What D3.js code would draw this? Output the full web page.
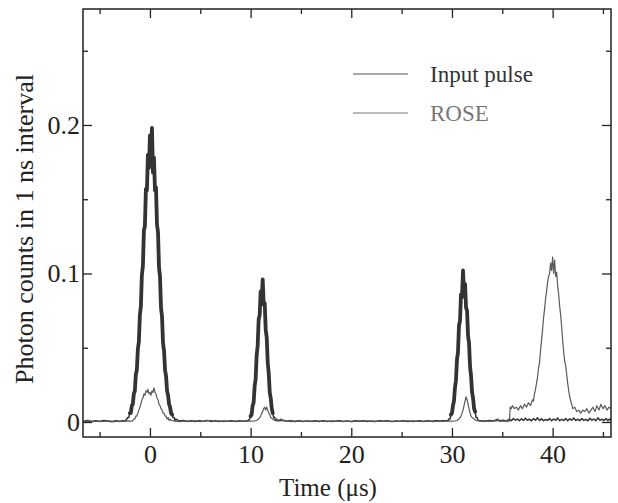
<!DOCTYPE html>
<html><head><meta charset="utf-8">
<script src="https://cdn.jsdelivr.net/npm/d3@7"></script>
<style>html,body{margin:0;padding:0;background:#fff;} svg{display:block}</style>
</head><body><svg id="chart" width="618" height="503"></svg>
<script>
const seriesNames = ["Input pulse", "ROSE"];
const xTicksMajor = [0, 10, 20, 30, 40];
const xTickLabels = ["0", "10", "20", "30", "40"];
const xTicksMinor = [-5, 5, 15, 25, 35, 45];
const yTicksMajor = [0, 0.1, 0.2];
const yTickLabels = ["0", "0.1", "0.2"];
const yTicksMinor = [0.05, 0.15, 0.25];
const xTitle = "Time (\u03bcs)";
const yTitle = "Photon counts in 1 ns interval";

// [time (us), photon counts]
const inputPulse = [
[-6.6,0.0005],[-6.2,0.001],[-5.8,0.0003],[-5.4,0.0008],[-5.0,0.0004],[-4.6,0.001],[-4.2,0.0006],[-3.8,0.0002],[-3.4,0.0009],[-3.0,0.0004],[-2.7,0.0008],
[-2.4,0.001],[-2.3,0.002],[-2.2,0.003],[-2.1,0.003],[-2.0,0.006],[-1.9,0.006],[-1.8,0.011],[-1.7,0.012],[-1.6,0.019],[-1.5,0.021],[-1.4,0.032],[-1.3,0.035],[-1.2,0.049],[-1.1,0.054],[-1.0,0.072],[-0.9,0.078],[-0.8,0.099],[-0.7,0.105],[-0.6,0.129],[-0.5,0.132],[-0.4,0.157],[-0.3,0.156],[-0.2,0.180],[-0.1,0.171],[0.0,0.193],[0.1,0.176],[0.2,0.198],[0.3,0.168],[0.4,0.178],[0.5,0.156],[0.6,0.158],[0.7,0.133],[0.8,0.128],[0.9,0.104],[1.0,0.098],[1.1,0.077],[1.2,0.071],[1.3,0.053],[1.4,0.048],[1.5,0.035],[1.6,0.031],[1.7,0.021],[1.8,0.018],[1.9,0.012],[2.0,0.010],[2.1,0.006],[2.2,0.005],[2.3,0.003],[2.4,0.003],[2.5,0.001],[2.6,0.002],
[2.9,0.0006],[3.3,0.001],[3.7,0.0004],[4.1,0.0008],[4.5,0.0003],[4.9,0.0009],[5.3,0.0005],[5.7,0.0011],[6.1,0.0004],[6.5,0.0008],[6.9,0.0003],[7.3,0.0007],[7.7,0.0005],[8.1,0.0009],[8.5,0.0004],[8.9,0.0008],[9.3,0.0005],[9.6,0.0009],
[9.8,0.001],[9.9,0.002],[10.0,0.004],[10.1,0.005],[10.2,0.011],[10.3,0.013],[10.4,0.024],[10.5,0.029],[10.6,0.045],[10.7,0.051],[10.8,0.069],[10.9,0.072],[11.0,0.088],[11.1,0.082],[11.2,0.096],[11.3,0.079],[11.4,0.080],[11.5,0.062],[11.6,0.057],[11.7,0.040],[11.8,0.033],[11.9,0.020],[12.0,0.016],[12.1,0.009],[12.2,0.006],[12.3,0.003],[12.4,0.003],[12.5,0.001],
[12.8,0.0008],[13.2,0.0012],[13.6,0.0005],[14.0,0.0009],[14.4,0.0004],[14.8,0.0008],[15.2,0.0003],[15.6,0.0007],[16.0,0.0005],[16.4,0.0009],[16.8,0.0004],[17.2,0.0008],[17.6,0.0003],[18.0,0.0006],[18.4,0.0005],[18.8,0.0009],[19.2,0.0004],[19.6,0.0007],[20.0,0.0003],[20.4,0.0008],[20.8,0.0005],[21.2,0.0009],[21.6,0.0004],[22.0,0.0007],[22.4,0.0003],[22.8,0.0008],[23.2,0.0005],[23.6,0.0009],[24.0,0.0004],[24.4,0.0007],[24.8,0.0005],[25.2,0.0008],[25.6,0.0003],[26.0,0.0007],[26.4,0.0005],[26.8,0.0009],[27.2,0.0004],[27.6,0.0008],[28.0,0.0005],[28.4,0.0009],[28.8,0.0006],[29.2,0.0008],
[29.6,0.001],[29.7,0.002],[29.8,0.002],[29.9,0.005],[30.0,0.006],[30.1,0.011],[30.2,0.014],[30.3,0.023],[30.4,0.028],[30.5,0.042],[30.6,0.047],[30.7,0.065],[30.8,0.068],[30.9,0.086],[31.0,0.084],[31.1,0.102],[31.2,0.086],[31.3,0.093],[31.4,0.077],[31.5,0.075],[31.6,0.058],[31.7,0.053],[31.8,0.037],[31.9,0.031],[32.0,0.020],[32.1,0.016],[32.2,0.009],[32.3,0.007],[32.4,0.003],[32.5,0.003],[32.6,0.001],
[32.9,0.0009],[33.3,0.0005],[33.7,0.0011],[34.1,0.0006],[34.5,0.0018],[34.8,0.0008],[35.1,0.0012],[35.4,0.0006],[35.7,0.002],[35.9,0.0009],[36.1,0.0024],[36.3,0.0012],[36.5,0.002],[36.7,0.0008],[36.9,0.0022],[37.1,0.001],[37.3,0.0026],[37.5,0.0011],[37.7,0.0019],[37.9,0.0008],[38.1,0.0023],[38.3,0.0012],[38.5,0.0028],[38.7,0.001],[38.9,0.0021],[39.1,0.0009],[39.3,0.0017],[39.5,0.0011],[39.7,0.0024],[39.9,0.0008],[40.1,0.002],[40.3,0.0012],[40.5,0.0026],[40.7,0.0009],[40.9,0.0018],[41.1,0.0011],[41.3,0.0023],[41.5,0.0008],[41.7,0.0021],[41.9,0.0012],[42.1,0.0027],[42.3,0.001],[42.5,0.0019],[42.7,0.0009],[42.9,0.0024],[43.1,0.0011],[43.3,0.0018],[43.5,0.0008],[43.7,0.0025],[43.9,0.0012],[44.1,0.002],[44.3,0.0009],[44.5,0.0028],[44.7,0.0011],[44.9,0.0019],[45.1,0.001],[45.3,0.0024],[45.5,0.0009],[45.7,0.0021],[45.8,0.0012]
];

const rose = [
[-6.6,0.0003],[-6.1,0.0007],[-5.6,0.0002],[-5.1,0.0006],[-4.6,0.0004],[-4.1,0.0008],[-3.6,0.0003],[-3.1,0.0006],[-2.6,0.0004],[-2.1,0.0007],[-1.8,0.0005],
[-1.7,0.001],[-1.6,0.002],[-1.5,0.002],[-1.4,0.004],[-1.3,0.004],[-1.2,0.006],[-1.1,0.008],[-1.0,0.010],[-0.9,0.012],[-0.8,0.015],[-0.7,0.016],[-0.6,0.019],[-0.5,0.018],[-0.4,0.021],[-0.3,0.020],[-0.2,0.022],[-0.1,0.019],[0.0,0.020],[0.1,0.018],[0.2,0.021],[0.3,0.020],[0.4,0.023],[0.5,0.020],[0.6,0.019],[0.7,0.016],[0.8,0.015],[0.9,0.012],[1.0,0.011],[1.1,0.009],[1.2,0.008],[1.3,0.006],[1.4,0.006],[1.5,0.004],[1.6,0.004],[1.7,0.002],[1.8,0.003],[1.9,0.001],[2.0,0.002],[2.1,0.001],[2.2,0.001],
[2.5,0.0006],[3.0,0.0003],[3.5,0.0008],[4.0,0.0004],[4.5,0.0007],[5.0,0.0003],[5.5,0.0006],[6.0,0.0012],[6.3,0.0004],[6.8,0.0007],[7.3,0.0003],[7.8,0.0006],[8.3,0.0004],[8.8,0.0008],[9.3,0.0005],[9.8,0.0007],[10.2,0.0005],
[10.6,0.001],[10.8,0.002],[10.9,0.003],[11.0,0.004],[11.1,0.006],[11.2,0.007],[11.3,0.009],[11.4,0.010],[11.5,0.008],[11.6,0.010],[11.7,0.008],[11.8,0.006],[11.9,0.005],[12.0,0.003],[12.2,0.002],[12.4,0.001],[12.6,0.002],[12.8,0.001],[13.0,0.002],[13.2,0.001],
[13.6,0.0006],[14.1,0.0003],[14.6,0.0007],[15.1,0.0004],[15.6,0.0006],[16.1,0.0003],[16.6,0.0008],[17.1,0.0004],[17.6,0.0006],[18.1,0.0003],[18.6,0.0007],[19.1,0.0004],[19.6,0.0006],[20.1,0.0003],[20.6,0.0007],[21.1,0.0004],[21.6,0.0008],[22.1,0.0003],[22.6,0.0006],[23.1,0.0004],[23.6,0.0007],[24.1,0.0003],[24.6,0.0006],[25.1,0.0004],[25.6,0.0008],[26.1,0.0003],[26.6,0.0006],[27.1,0.0004],[27.6,0.0007],[28.1,0.0003],[28.6,0.0006],[29.1,0.0004],[29.6,0.0007],[30.1,0.0005],
[30.5,0.001],[30.7,0.002],[30.8,0.003],[30.9,0.004],[31.0,0.006],[31.1,0.008],[31.2,0.011],[31.3,0.014],[31.4,0.017],[31.5,0.015],[31.6,0.012],[31.7,0.009],[31.8,0.006],[31.9,0.004],[32.0,0.003],[32.2,0.002],[32.4,0.001],
[32.8,0.0005],[33.3,0.0008],[33.8,0.0004],[34.3,0.0009],[34.8,0.0005],[35.3,0.0008],[35.72,0.0006],
[35.78,0.010],[35.9,0.009],[36.0,0.011],[36.2,0.009],[36.4,0.010],[36.6,0.008],[36.8,0.011],[37.0,0.009],[37.2,0.012],[37.4,0.010],[37.6,0.013],[37.8,0.011],[38.0,0.015],[38.1,0.014],[38.2,0.019],[38.3,0.022],[38.4,0.026],[38.5,0.030],[38.6,0.036],[38.7,0.040],[38.8,0.048],[38.9,0.055],[39.0,0.062],[39.1,0.070],[39.2,0.076],[39.3,0.083],[39.4,0.088],[39.5,0.094],[39.6,0.098],[39.7,0.100],[39.8,0.107],[39.9,0.102],[40.0,0.111],[40.1,0.100],[40.2,0.109],[40.3,0.098],[40.4,0.101],[40.5,0.092],[40.6,0.086],[40.7,0.078],[40.8,0.072],[40.9,0.064],[41.0,0.055],[41.1,0.047],[41.2,0.041],[41.3,0.038],[41.4,0.032],[41.5,0.026],[41.6,0.021],[41.7,0.017],[41.8,0.014],[41.9,0.012],[42.0,0.009],[42.2,0.010],[42.4,0.007],[42.6,0.008],[42.8,0.006],[43.0,0.008],[43.2,0.007],[43.4,0.009],[43.6,0.006],[43.8,0.008],[44.0,0.010],[44.2,0.007],[44.4,0.011],[44.6,0.008],[44.8,0.012],[45.0,0.009],[45.2,0.011],[45.4,0.008],[45.6,0.010],[45.8,0.009]
];

const svg = d3.select("#chart");
const plot = {left: 83, right: 611, top: 9, bottom: 437};
const x = d3.scaleLinear().domain([-6.65, 45.8]).range([plot.left, plot.right]);
const y = d3.scaleLinear().domain([-0.0101, 0.2781]).range([plot.bottom, plot.top]);

const font = "'Liberation Serif','Times New Roman',serif";
const axisColor = "#222";

svg.append("defs").append("clipPath").attr("id","clip")
  .append("rect").attr("x",plot.left).attr("y",plot.top)
  .attr("width",plot.right-plot.left).attr("height",plot.bottom-plot.top);

const line = d3.line().x(d => x(d[0])).y(d => y(d[1]));
const g = svg.append("g").attr("clip-path","url(#clip)");

// Input pulse: thin everywhere, heavier through the dense pulses
g.append("path").datum(inputPulse).attr("d", line)
  .attr("fill","none").attr("stroke","#333").attr("stroke-width",1.5).attr("stroke-linejoin","round");
g.append("path").datum(inputPulse)
  .attr("d", d3.line().defined(d => d[1] >= 0.004).x(d => x(d[0])).y(d => y(d[1])))
  .attr("fill","none").attr("stroke","#333").attr("stroke-width",3.8)
  .attr("stroke-linejoin","round").attr("stroke-linecap","round");
// ROSE
g.append("path").datum(rose).attr("d", line)
  .attr("fill","none").attr("stroke","#5a5a5a").attr("stroke-width",1.2).attr("stroke-linejoin","round");

function styleAxis(sel){
  sel.select(".domain").remove();
  sel.selectAll("line").attr("stroke", axisColor).attr("stroke-width",1.3);
  sel.selectAll("text").attr("font-family", font).attr("font-size", 26).attr("fill", "#222");
}

svg.append("g").attr("transform",`translate(0,${plot.bottom})`)
  .call(d3.axisBottom(x).tickValues(xTicksMajor).tickSize(-9).tickPadding(8)
    .tickFormat((d,i) => xTickLabels[i])).call(styleAxis);
svg.append("g").attr("transform",`translate(0,${plot.bottom})`)
  .call(d3.axisBottom(x).tickValues(xTicksMinor).tickSize(-5).tickFormat("")).call(styleAxis);
svg.append("g").attr("transform",`translate(0,${plot.top})`)
  .call(d3.axisTop(x).tickValues(xTicksMajor).tickSize(-9).tickFormat("")).call(styleAxis);
svg.append("g").attr("transform",`translate(0,${plot.top})`)
  .call(d3.axisTop(x).tickValues(xTicksMinor).tickSize(-5).tickFormat("")).call(styleAxis);
svg.append("g").attr("transform",`translate(${plot.left},0)`)
  .call(d3.axisLeft(y).tickValues(yTicksMajor).tickSize(-9).tickPadding(3)
    .tickFormat((d,i) => yTickLabels[i])).call(styleAxis);
svg.append("g").attr("transform",`translate(${plot.left},0)`)
  .call(d3.axisLeft(y).tickValues(yTicksMinor).tickSize(-5).tickFormat("")).call(styleAxis);
svg.append("g").attr("transform",`translate(${plot.right},0)`)
  .call(d3.axisRight(y).tickValues(yTicksMajor).tickSize(-9).tickFormat("")).call(styleAxis);
svg.append("g").attr("transform",`translate(${plot.right},0)`)
  .call(d3.axisRight(y).tickValues(yTicksMinor).tickSize(-5).tickFormat("")).call(styleAxis);

svg.append("rect").attr("x",plot.left).attr("y",plot.top)
  .attr("width",plot.right-plot.left).attr("height",plot.bottom-plot.top)
  .attr("fill","none").attr("stroke",axisColor).attr("stroke-width",1.5);

svg.append("text").attr("x",328).attr("y",496).attr("text-anchor","middle")
  .attr("font-family",font).attr("font-size",25).attr("fill","#222").text(xTitle);
svg.append("text").attr("transform","translate(33,229) rotate(-90)").attr("text-anchor","middle")
  .attr("font-family",font).attr("font-size",26).attr("fill","#222").text(yTitle);

const legendColors = ["#555", "#777"];
const legendText = ["#333", "#777"];
const legendY = [74, 113];
seriesNames.forEach((name,i) => {
  svg.append("line").attr("x1",353).attr("x2",408).attr("y1",legendY[i]).attr("y2",legendY[i])
    .attr("stroke",legendColors[i]).attr("stroke-width",1.2);
  svg.append("text").attr("x",430).attr("y",legendY[i]+8)
    .attr("font-family",font).attr("font-size",23).attr("fill",legendText[i]).text(name);
});
</script>
</body></html>
